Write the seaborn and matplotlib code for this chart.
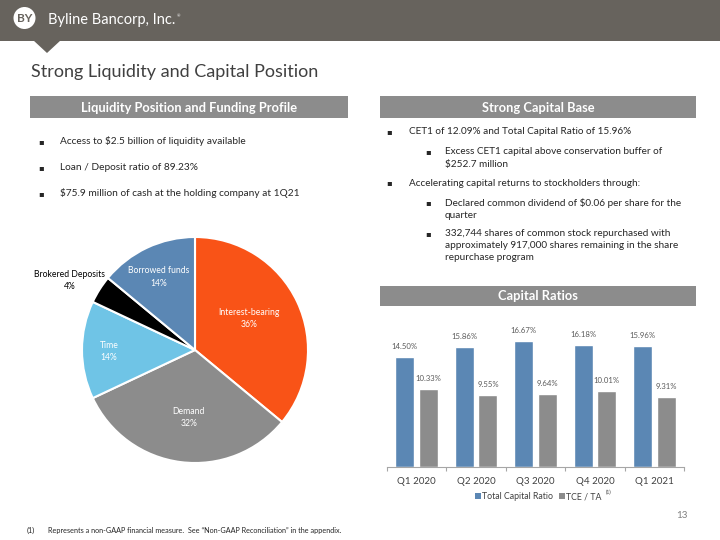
import matplotlib.pyplot as plt
import matplotlib.patches as mpatches
import seaborn as sns
import pandas as pd
import numpy as np

# data
funding_labels = ['Interest-bearing', 'Demand', 'Time', 'Brokered Deposits', 'Borrowed funds']
funding_pct = [36, 32, 14, 4, 14]
quarters = ['Q1 2020', 'Q2 2020', 'Q3 2020', 'Q4 2020', 'Q1 2021']
total_capital_ratio = [14.50, 15.86, 16.67, 16.18, 15.96]
tce_ta = [10.33, 9.55, 9.64, 10.01, 9.31]

left_bullets = ['Access to $2.5 billion of liquidity available',
                'Loan / Deposit ratio of 89.23%',
                '$75.9 million of cash at the holding company at 1Q21']

W, H = 720, 540
sns.set_theme(style='white')
plt.rcParams['font.family'] = ['Lato', 'DejaVu Sans']

fig = plt.figure(figsize=(7.2, 5.4), dpi=100)
fig.patch.set_facecolor('white')


def box(x, y, w, h):
    # pixel box (top-left origin) -> figure fraction
    return [x / W, 1 - (y + h) / H, w / W, h / H]


# background canvas for shapes/text
bg = fig.add_axes([0, 0, 1, 1])
bg.set_xlim(0, W)
bg.set_ylim(H, 0)
bg.axis('off')

head_col = '#67635d'
bg.add_patch(mpatches.Rectangle((0, 0), W, 41, color=head_col, lw=0))
bg.add_patch(mpatches.Polygon([(33, 40), (61, 40), (47, 53)], closed=True, color=head_col, lw=0))
bg.add_patch(mpatches.Circle((24.5, 18), 11, color='white', lw=0))
bg.text(24.5, 18.5, 'BY', color=head_col, fontsize=8.5, fontweight='bold', ha='center', va='center')
logo = bg.text(48, 20, 'Byline Bancorp, Inc.', color='white', fontsize=10.5, ha='left', va='center')
bg.annotate('®', xy=(1, 0.75), xycoords=logo, xytext=(1, 0), textcoords='offset points',
            color='white', fontsize=3, ha='left', va='center')

bg.text(31, 72, 'Strong Liquidity and Capital Position', color='#404040', fontsize=13, ha='left', va='center')

bar_col = '#8c8c8c'
for (x0, y0, w0, h0, t) in [(30, 96, 318, 22, 'Liquidity Position and Funding Profile'),
                            (380, 96, 316, 22, 'Strong Capital Base'),
                            (380, 286, 316, 20, 'Capital Ratios')]:
    bg.add_patch(mpatches.Rectangle((x0, y0), w0, h0, color=bar_col, lw=0))
    bg.text(x0 + w0 / 2, y0 + h0 / 2 + 0.5, t, color='white', fontsize=9.3, fontweight='bold',
            ha='center', va='center')

txt_col = '#262626'
for i, t in enumerate(left_bullets):
    yy = 141.5 + i * 26
    bg.text(41, yy, '▪', fontsize=6, ha='center', va='center', color=txt_col, family='DejaVu Sans')
    bg.text(60, yy, t, fontsize=7.3, ha='left', va='center', color=txt_col)

right_items = [
    (0, 132, ['CET1 of 12.09% and Total Capital Ratio of 15.96%']),
    (1, 152, ['Excess CET1 capital above conservation buffer of', '$252.7 million']),
    (0, 183, ['Accelerating capital returns to stockholders through:']),
    (1, 203, ['Declared common dividend of $0.06 per share for the', 'quarter']),
    (1, 234, ['332,744 shares of common stock repurchased with',
              'approximately 917,000 shares remaining in the share',
              'repurchase program']),
]
for lvl, yy, lines in right_items:
    bx = 389 if lvl == 0 else 428
    tx = 409 if lvl == 0 else 445
    bg.text(bx, yy, '▪', fontsize=6, ha='center', va='center', color=txt_col, family='DejaVu Sans')
    for j, ln in enumerate(lines):
        bg.text(tx, yy + j * 12, ln, fontsize=7.2, ha='left', va='center', color=txt_col)

bg.text(682, 516, '13', fontsize=7, color='#7f7f7f', ha='center', va='center')
bg.text(27, 530, '(1)', fontsize=5.2, color=txt_col, ha='left', va='center')
bg.text(48, 530, 'Represents a non-GAAP financial measure.  See \u201cNon-GAAP Reconciliation\u201d in the appendix.',
        fontsize=5.2, color=txt_col, ha='left', va='center')

# pie chart
pie_colors = ['#f95317', '#8c8c8c', '#6fc4e6', '#000000', '#5b87b4']
label_dist = [0.55, 0.60, 0.76, 1.27, 0.72]
label_shift = [5, 2, 1, 3.4, 1]
label_col = ['white', 'white', 'white', 'black', 'white']
r_px = 113
cx, cy = 195, 350
axp = fig.add_axes(box(cx - r_px * 1.25, cy - r_px * 1.25, r_px * 2.5, r_px * 2.5))
wedges, _ = axp.pie(funding_pct, colors=pie_colors, startangle=90, counterclock=False,
                    wedgeprops=dict(edgecolor='white', linewidth=1.5))
axp.set_xlim(-1.25, 1.25)
axp.set_ylim(-1.25, 1.25)
for w, lab, p, d, sh, c in zip(wedges, funding_labels, funding_pct, label_dist, label_shift, label_col):
    ang = np.deg2rad((w.theta1 + w.theta2) / 2 + sh)
    axp.text(d * np.cos(ang), d * np.sin(ang), f'{lab}\n{p}%', color=c, fontsize=6.2,
             ha='center', va='center', linespacing=1.45)

# bar chart
df = pd.DataFrame({
    'Quarter': quarters * 2,
    'Value': total_capital_ratio + tce_ta,
    'Series': ['Total Capital Ratio'] * len(quarters) + ['TCE / TA'] * len(quarters),
})
axb = fig.add_axes(box(387, 320, 297, 147))
sns.barplot(data=df, x='Quarter', y='Value', hue='Series', palette=['#5b87b4', '#8c8c8c'],
            width=0.8, gap=0.2, ax=axb, legend=False, saturation=1)
axb.set_ylim(0, 19.45)
axb.set_xlim(-0.5, len(quarters) - 0.5)
axb.set_xlabel('')
axb.set_ylabel('')
axb.set_yticks([])
for s in ['top', 'right', 'left']:
    axb.spines[s].set_visible(False)
axb.spines['bottom'].set_color('#a6a6a6')
axb.spines['bottom'].set_linewidth(0.8)
axb.tick_params(axis='x', length=0, labelsize=7, labelcolor='#404040', pad=7)
axb.set_xticks(np.arange(-0.5, len(quarters)), minor=True)
axb.tick_params(axis='x', which='minor', length=3, color='#a6a6a6', width=0.8, bottom=True)
for cont in axb.containers:
    axb.bar_label(cont, labels=[f'{v:.2f}%' for v in cont.datavalues], fontsize=5.6,
                  color='#595959', padding=5)

# legend
bg.add_patch(mpatches.Rectangle((475, 493), 6, 6, color='#5b87b4', lw=0))
bg.text(482, 496.5, 'Total Capital Ratio', fontsize=6.3, color='#404040', ha='left', va='center')
bg.add_patch(mpatches.Rectangle((559, 493), 6, 6, color='#8c8c8c', lw=0))
tce = bg.text(566, 496.5, 'TCE / TA', fontsize=6.3, color='#404040', ha='left', va='center')
bg.annotate('(1)', xy=(1, 1), xycoords=tce, xytext=(3, 0), textcoords='offset points',
            fontsize=3.5, color='#404040', ha='left', va='center')

fig.savefig('out.png', dpi=100)
